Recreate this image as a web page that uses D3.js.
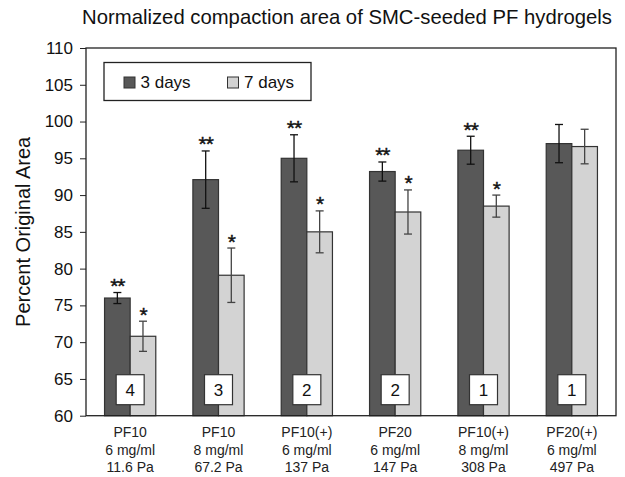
<!DOCTYPE html>
<html>
<head>
<meta charset="utf-8">
<script src="https://cdn.jsdelivr.net/npm/d3@7"></script>
<style>
  body { margin: 0; background: #fff; }
  svg text { font-family: "Liberation Sans", Arial, sans-serif; fill: #111; }
</style>
</head>
<body>
<div id="chart"></div>
<script>
// data
var groupNames = ["PF10", "PF10", "PF10(+)", "PF20", "PF10(+)", "PF20(+)"];
var concentrations = ["6 mg/ml", "8 mg/ml", "6 mg/ml", "6 mg/ml", "8 mg/ml", "6 mg/ml"];
var moduli = ["11.6 Pa", "67.2 Pa", "137 Pa", "147 Pa", "308 Pa", "497 Pa"];
var series = ["3 days", "7 days"];
var day3 = [76.0, 92.1, 95.0, 93.2, 96.1, 97.0];
var err3 = [0.75, 3.9, 3.2, 1.3, 1.9, 2.6];
var day7 = [70.8, 79.1, 85.0, 87.7, 88.5, 96.6];
var err7 = [2.05, 3.7, 2.85, 3.0, 1.5, 2.35];
var sig3 = ["**", "**", "**", "**", "**", ""];
var sig7 = ["*", "*", "*", "*", "*", ""];
var ranks = [4, 3, 2, 2, 1, 1];
var yTicks = [60, 65, 70, 75, 80, 85, 90, 95, 100, 105, 110];

var w = 625, h = 477;
// plot box (window.top is reserved, so prefixed names)
var pLeft = 86, pRight = 616, pTop = 48, pBottom = 415.7;
var colors = ["#585858", "#d3d3d3"];

var svg = d3.select("#chart").append("svg")
    .attr("width", w)
    .attr("height", h);

var x0 = d3.scaleBand()
    .domain(d3.range(groupNames.length))
    .range([pLeft, pRight])
    .paddingInner(0.42)
    .paddingOuter(0.21);

var x1 = d3.scaleBand()
    .domain([0, 1])
    .range([0, x0.bandwidth()]);

var y = d3.scaleLinear()
    .domain([60, 110])
    .range([pBottom, pTop]);

// rows: one per bar
var rows = [];
groupNames.forEach(function(g, i) {
    rows.push({ g: i, s: 0, v: day3[i], e: err3[i], sig: sig3[i] });
    rows.push({ g: i, s: 1, v: day7[i], e: err7[i], sig: sig7[i] });
});

// Title
svg.append("text")
    .attr("x", 347)
    .attr("y", 24)
    .attr("text-anchor", "middle")
    .style("font-size", "20.3px")
    .text("Normalized compaction area of SMC-seeded PF hydrogels");

// Bars
svg.append("g")
    .selectAll("rect")
    .data(rows)
    .enter()
    .append("rect")
        .attr("x", function(d) { return x0(d.g) + x1(d.s); })
        .attr("y", function(d) { return y(d.v); })
        .attr("width", x1.bandwidth())
        .attr("height", function(d) { return y(60) - y(d.v); })
        .style("fill", function(d) { return colors[d.s]; })
        .style("stroke", "#333")
        .style("stroke-width", 1.2);

// Error bars
var eb = svg.append("g")
    .selectAll("g")
    .data(rows)
    .enter()
    .append("g")
    .attr("transform", function(d) {
        return "translate(" + (x0(d.g) + x1(d.s) + x1.bandwidth() / 2) + ",0)";
    })
    .style("stroke", function(d) { return d.s === 0 ? "#111" : "#444"; })
    .style("stroke-width", 1.3);

eb.append("line")
    .attr("y1", function(d) { return y(d.v - d.e); })
    .attr("y2", function(d) { return y(d.v + d.e); });
eb.append("line")
    .attr("x1", -4).attr("x2", 4)
    .attr("y1", function(d) { return y(d.v + d.e); })
    .attr("y2", function(d) { return y(d.v + d.e); });
eb.append("line")
    .attr("x1", -4).attr("x2", 4)
    .attr("y1", function(d) { return y(d.v - d.e); })
    .attr("y2", function(d) { return y(d.v - d.e); });

// Significance stars
svg.append("g")
    .selectAll("text")
    .data(rows.filter(function(d) { return d.sig !== ""; }))
    .enter()
    .append("text")
        .attr("x", function(d) { return x0(d.g) + x1(d.s) + x1.bandwidth() / 2; })
        .attr("y", function(d) { return y(d.v + d.e) + 0.5; })
        .attr("text-anchor", "middle")
        .style("font-size", "21px")
        .style("letter-spacing", "-1px")
        .style("stroke", "#111")
        .style("stroke-width", 0.4)
        .text(function(d) { return d.sig; });

// Rank boxes
var rb = svg.append("g")
    .selectAll("g")
    .data(ranks)
    .enter()
    .append("g")
    .attr("transform", function(d, i) {
        return "translate(" + (x0(i) + x0.bandwidth() / 2) + "," + (pBottom - 26) + ")";
    });
rb.append("rect")
    .attr("x", -14).attr("y", -15)
    .attr("width", 28).attr("height", 30)
    .style("fill", "#fff")
    .style("stroke", "#333")
    .style("stroke-width", 1.2);
rb.append("text")
    .attr("y", 6)
    .attr("text-anchor", "middle")
    .style("font-size", "17px")
    .text(function(d) { return d; });

// Y axis
var yAxis = d3.axisLeft(y)
    .tickValues(yTicks)
    .tickSize(6)
    .tickPadding(7);
var ya = svg.append("g")
    .attr("transform", "translate(" + pLeft + ",0)")
    .call(yAxis);
ya.select(".domain").remove();
ya.selectAll("line").style("stroke", "#222");
ya.selectAll("text")
    .style("font-size", "17px")
    .style("font-family", "'Liberation Sans', Arial, sans-serif")
    .style("fill", "#111");

// Plot frame
svg.append("rect")
    .attr("x", pLeft).attr("y", pTop)
    .attr("width", pRight - pLeft).attr("height", pBottom - pTop)
    .style("fill", "none")
    .style("stroke", "#222")
    .style("stroke-width", 1.3);

// X category labels (three lines)
var xl = svg.append("g")
    .selectAll("text")
    .data(groupNames)
    .enter()
    .append("text")
    .attr("text-anchor", "middle")
    .style("font-size", "14px")
    .style("fill", "#222")
    .attr("transform", function(d, i) {
        return "translate(" + (x0(i) + x0.bandwidth() / 2) + ",437)";
    });
xl.append("tspan").attr("x", 0).attr("y", 0).text(function(d) { return d; });
xl.append("tspan").attr("x", 0).attr("y", 17.5).text(function(d, i) { return concentrations[i]; });
xl.append("tspan").attr("x", 0).attr("y", 35).text(function(d, i) { return moduli[i]; });

// Y axis title
svg.append("text")
    .attr("transform", "translate(30," + ((pTop + pBottom) / 2) + ") rotate(-90)")
    .attr("text-anchor", "middle")
    .style("font-size", "20px")
    .text("Percent Original Area");

// Legend
var lg = svg.append("g");
lg.append("rect")
    .attr("x", 104).attr("y", 62.5)
    .attr("width", 207).attr("height", 38)
    .style("fill", "#fff")
    .style("stroke", "#222")
    .style("stroke-width", 1.3);
var li = lg.selectAll("g")
    .data(series)
    .enter()
    .append("g")
    .attr("transform", function(d, i) { return "translate(" + (124 + i * 103.5) + ",77)"; });
li.append("rect")
    .attr("width", 11).attr("height", 11)
    .style("fill", function(d, i) { return colors[i]; })
    .style("stroke", "#333");
li.append("text")
    .attr("x", 16.5).attr("y", 11)
    .style("font-size", "17px")
    .text(function(d) { return d; });
</script>
</body>
</html>
